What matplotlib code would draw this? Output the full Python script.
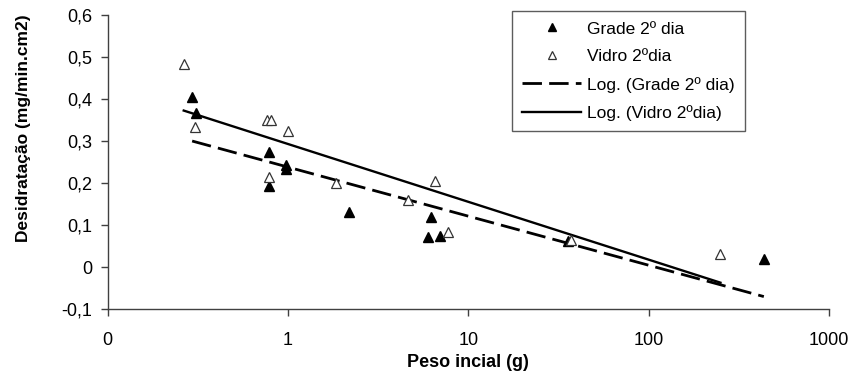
import matplotlib.pyplot as plt
import numpy as np
from matplotlib.lines import Line2D
from matplotlib.ticker import FixedLocator, FuncFormatter

plt.rcParams["font.family"] = ["Liberation Sans", "DejaVu Sans"]

# Grade 2º dia (filled triangles)
grade_x = [0.294, 0.309, 0.787, 0.787, 0.971, 0.971, 2.19, 6.0, 6.21, 7.0, 35.5, 435]
grade_y = [0.406, 0.367, 0.275, 0.194, 0.244, 0.233, 0.132, 0.071, 0.120, 0.075, 0.063, 0.020]

# Vidro 2ºdia (open triangles)
vidro_x = [0.264, 0.305, 0.762, 0.808, 1.0, 0.787, 1.85, 4.61, 6.54, 7.69, 37.0, 250]
vidro_y = [0.483, 0.333, 0.351, 0.351, 0.325, 0.216, 0.200, 0.160, 0.206, 0.085, 0.066, 0.032]

x_ticks = [0.1, 1, 10, 100, 1000]
x_tick_labels = ["0", "1", "10", "100", "1000"]
y_ticks = [-0.1, 0, 0.1, 0.2, 0.3, 0.4, 0.5, 0.6]


def log_trend(x, y):
    # Excel-style logarithmic trendline: y = a*ln(x) + b
    x = np.asarray(x)
    a, b = np.polyfit(np.log(x), np.asarray(y), 1)
    xs = np.logspace(np.log10(x.min()), np.log10(x.max()), 200)
    return xs, a * np.log(xs) + b


fig = plt.figure(figsize=(8.56, 3.77), dpi=100)
ax = fig.add_axes([0.1258, 0.1796, 0.8427, 0.7798])

ax.set_xscale("log")
ax.set_xlim(0.1, 1000)
ax.set_ylim(-0.1, 0.6)

gx, gy = log_trend(grade_x, grade_y)
vx, vy = log_trend(vidro_x, vidro_y)
ax.plot(gx, gy, color="black", lw=2.0, dashes=(7, 2.6), zorder=2)
ax.plot(vx, vy, color="black", lw=1.7, zorder=2)

ax.plot(grade_x, grade_y, ls="none", marker="^", ms=7, mfc="black", mec="black", zorder=3)
ax.plot(vidro_x, vidro_y, ls="none", marker="^", ms=7, mfc="white", mec="#333333", mew=0.9, zorder=3)

ax.xaxis.set_major_locator(FixedLocator(x_ticks))
ax.xaxis.set_minor_locator(FixedLocator([]))
ax.set_xticklabels(x_tick_labels)
ax.yaxis.set_major_locator(FixedLocator(y_ticks))
ax.yaxis.set_major_formatter(FuncFormatter(lambda v, p: "0" if abs(v) < 1e-9 else f"{v:.1f}".replace(".", ",")))

for side in ["top", "right"]:
    ax.spines[side].set_visible(False)
for side in ["left", "bottom"]:
    ax.spines[side].set_color("#404040")
    ax.spines[side].set_linewidth(1.0)
ax.tick_params(axis="both", direction="out", length=5, width=1.0, color="#404040", labelsize=13)
ax.tick_params(axis="x", pad=11)
ax.tick_params(axis="y", pad=6)

ax.set_xlabel("Peso incial (g)", fontsize=13, fontweight="bold", labelpad=4)
ax.set_ylabel("Desidratação (mg/min.cm2)", fontsize=12.5, fontweight="bold")
ax.yaxis.set_label_coords(-0.107, 0.617)

handles = [
    Line2D([], [], ls="none", marker="^", ms=6, mfc="black", mec="black"),
    Line2D([], [], ls="none", marker="^", ms=6, mfc="white", mec="#333333", mew=0.9),
    Line2D([], [], color="black", lw=2.0, dashes=(7, 2.6)),
    Line2D([], [], color="black", lw=1.7),
]
labels = ["Grade 2º dia", "Vidro 2ºdia", "Log. (Grade 2º dia)", "Log. (Vidro 2ºdia)"]
leg = fig.legend(handles, labels, loc="upper left", bbox_to_anchor=(0.598, 0.971),
                 fontsize=12.5, frameon=True, fancybox=False, edgecolor="#333333",
                 handlelength=3.4, handletextpad=0.35, labelspacing=0.72, borderpad=0.6,
                 borderaxespad=0)
leg.get_frame().set_linewidth(1.0)

fig.savefig("out.png", dpi=100)
